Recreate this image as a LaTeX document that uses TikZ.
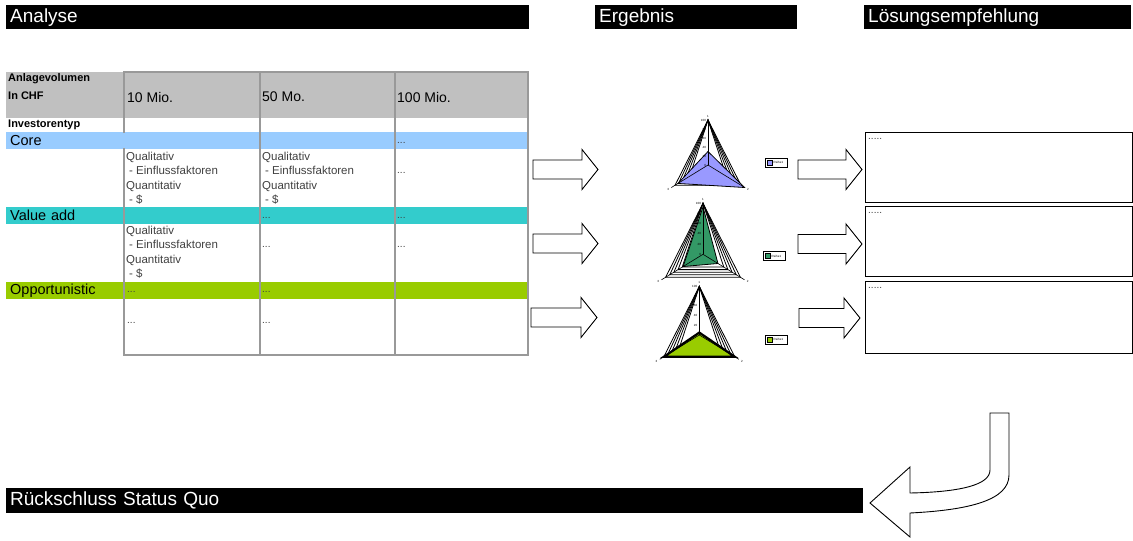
\documentclass[tikz,border=0pt]{standalone}
\usepackage{fontspec}
\setmainfont{Liberation Sans}
\usetikzlibrary{positioning}

\definecolor{corecol}{HTML}{99CCFF}
\definecolor{valuecol}{HTML}{33CCCC}
\definecolor{oppcol}{HTML}{99CC00}
\definecolor{headgray}{HTML}{C0C0C0}
\definecolor{linegray}{HTML}{999999}
\definecolor{radarblue}{HTML}{9999FF}
\definecolor{radargreen}{HTML}{339966}
\definecolor{celltext}{HTML}{404040}

\begin{document}
\begin{tikzpicture}[x=1pt, y=-1pt,
  headbar/.style={fill=black, text=white, font=\fontsize{19}{22}\selectfont, anchor=north west, minimum height=24pt, inner xsep=4pt, inner ysep=0pt, align=left},
  rowbar/.style={anchor=north west, minimum height=17pt, text width=514pt, inner xsep=4pt, inner ysep=0pt, align=left, font=\fontsize{14.5}{16}\selectfont},
  colhead/.style={anchor=west, inner sep=0pt, font=\fontsize{14}{15}\selectfont},
  smallbold/.style={anchor=west, inner sep=0pt, font=\fontsize{11}{12}\selectfont\bfseries},
  cell/.style={anchor=north west, inner sep=0pt, align=left, text=celltext, font=\fontsize{11.5}{14.3}\selectfont},
  ellip/.style={anchor=west, inner sep=0pt, text=celltext, font=\fontsize{10}{11}\selectfont},
  tabline/.style={draw=linegray, line width=2.5pt, line cap=rect},
  blockarr/.style={draw=black, fill=white, line width=0.9pt, line join=miter},
  result/.style={draw=black, line width=1pt, anchor=north west, minimum width=266.5pt, minimum height=70pt, inner sep=0pt},
  tiny/.style={inner sep=0pt, font=\fontsize{3}{3}\selectfont}]
\useasboundingbox (0,0) rectangle (1133,541);

% headers
\node[headbar, text width=515pt] (analyse) at (6,5) {Analyse};
\node[headbar, text width=194pt] (ergebnis) at (595,5) {Ergebnis};
\node[headbar, text width=259pt] (loesung) at (864,5) {Lösungsempfehlung};
\node[headbar, text width=849pt, minimum height=25pt] (status) at (6,488) {Rückschluss Status Quo};

% table
\fill[headgray] (6,72) rectangle (528,118);
\node[smallbold] (vol) at (8,79) {Anlagevolumen};
\node[smallbold] (chf) at (8,96) {In CHF};
\node[colhead] (v10) at (127,97) {10 Mio.};
\node[colhead] (v50) at (262,97) {50 Mo.};
\node[colhead] (v100) at (397,97) {100 Mio.};
\node[smallbold] (typ) at (8,124.5) {Investorentyp};

\node[rowbar, fill=corecol] (core) at (6,132) {Core};
\node[rowbar, fill=valuecol] (value) at (6,207) {Value add};
\node[rowbar, fill=oppcol] (opp) at (6,282) {Opportunistic};

\node[cell] (core1) at (126,152) {Qualitativ\\\hspace*{3pt}- Einflussfaktoren\\Quantitativ\\\hspace*{3pt}- \$};
\node[cell] (core2) at (262,152) {Qualitativ\\\hspace*{3pt}- Einflussfaktoren\\Quantitativ\\\hspace*{3pt}- \$};
\node[cell] (value1) at (126,226) {Qualitativ\\\hspace*{3pt}- Einflussfaktoren\\Quantitativ\\\hspace*{3pt}- \$};

\node[ellip] (e1) at (397,143) {...};
\node[ellip] (e2) at (397,173) {...};
\node[ellip] (e3) at (262,218) {...};
\node[ellip] (e4) at (397,218) {...};
\node[ellip] (e5) at (262,247) {...};
\node[ellip] (e6) at (397,247) {...};
\node[ellip] (e7) at (127,292) {...};
\node[ellip] (e8) at (262,292) {...};
\node[ellip] (e9) at (127,323) {...};
\node[ellip] (e10) at (262,323) {...};

\draw[tabline] (124,72) -- (528,72);
\draw[tabline] (124,72) -- (124,132) (124,149) -- (124,355);
\foreach \x in {260,395,528}
  \draw[tabline] (\x,72) -- (\x,355);
\draw[tabline] (124,355) -- (528,355);

% block arrows
\foreach \x/\y/\t in {533/169.5/598, 533/243.5/598, 531/317.5/597, 798/169.5/862, 798/244/862, 799/318/860}
  \draw[blockarr] (\x,\y-9.5) -- (\t-16,\y-9.5) -- (\t-16,\y-20) -- (\t,\y) -- (\t-16,\y+20) -- (\t-16,\y+9.5) -- (\x,\y+9.5) -- cycle;

% radar charts
\foreach \cx/\cy/\rr/\va/\vb/\vc/\fc/\lw/\lx/\ly/\n in {708/165/45/0.3/0.82/1.0/radarblue/0.8/765.5/158/1, 703/254.3/51/0.93/0.48/0.36/radargreen/0.8/763.5/251.5/2, 699.3/335/48.5/0.05/0.9/0.9/oppcol/2.2/765.5/335/3}{
  \begin{scope}[shift={(\cx,\cy)}, x=0.94pt, y=1pt]
    \foreach \k in {0.5,0.6,...,1.0}
      \draw[line width=0.8pt] (90:\rr) -- (210:{\k*\rr}) -- (330:{\k*\rr}) -- cycle;
    \draw[fill=\fc, line width=\lw pt, line join=miter] (90:{\va*\rr}) -- (210:{\vb*\rr}) -- (330:{\vc*\rr}) -- cycle;
    \foreach \a in {90,210,330}
      \draw[line width=0.6pt] (0,0) -- (\a:\rr);
    \foreach \k/\v in {0/0,1/20,2/40,3/60,4/80,5/100}
      \node[tiny, anchor=east] (val\n\k) at (-2,{\k*\rr/5}) {\v};
    \node[tiny] (cat\n a) at (90:{\rr+4}) {1};
    \node[tiny] (cat\n b) at (330:{\rr+4}) {2};
    \node[tiny] (cat\n c) at (210:{\rr+4}) {3};
  \end{scope}
  \draw[line width=0.7pt] (\lx,\ly) rectangle (\lx+21.5,\ly+9);
  \draw[line width=1pt] (\lx+0.5,\ly+9.3) -- (\lx+21.8,\ly+9.3) -- (\lx+21.8,\ly+0.5);
  \draw[fill=\fc, line width=1pt] (\lx+2,\ly+2) rectangle (\lx+6.5,\ly+7);
  \node[tiny, anchor=west] (leg\n) at (\lx+8,\ly+4.5) {Reihe1};
}

% solution boxes
\node[result] (sol1) at (865,131.5) {};
\node[result] (sol2) at (865,205.5) {};
\node[result, minimum height=72pt] (sol3) at (865,280.5) {};
\node[ellip] (s1) at (868,139) {.....};
\node[ellip] (s2) at (868,213) {.....};
\node[ellip] (s3) at (868,288) {.....};

% back arrow
\draw[blockarr] (990,413) -- (1009,413) -- (1009,475) .. controls (1009,500) and (970,510) .. (910,513) -- (910,537) -- (870,503) -- (910,467) -- (910,493) .. controls (960,492) and (990,485) .. (990,470) -- cycle;
\end{tikzpicture}
\end{document}
